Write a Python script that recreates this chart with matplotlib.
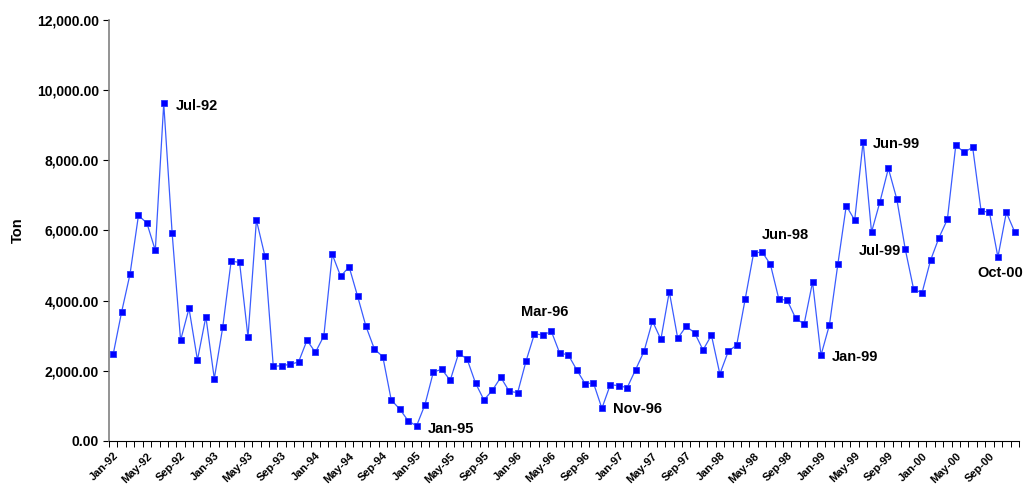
import matplotlib
matplotlib.use("Agg")
import matplotlib.pyplot as plt
import numpy as np
from matplotlib.ticker import FuncFormatter

# monthly tonnage, Jan-92 .. Dec-00
years = list(range(1992, 2001))
month_names = ["Jan", "Feb", "Mar", "Apr", "May", "Jun",
               "Jul", "Aug", "Sep", "Oct", "Nov", "Dec"]

tons_1992 = [2470, 3675, 4758, 6430, 6211, 5433, 9621, 5917, 2869, 3780, 2308, 3542]
tons_1993 = [1776, 3239, 5128, 5090, 2963, 6296, 5280, 2128, 2146, 2185, 2251, 2869]
tons_1994 = [2527, 2991, 5319, 4692, 4966, 4131, 3268, 2621, 2402, 1168, 912, 579]
tons_1995 = [427, 1034, 1966, 2042, 1729, 2499, 2336, 1652, 1168, 1444, 1815, 1416]
tons_1996 = [1377, 2279, 3058, 3020, 3125, 2499, 2460, 2033, 1634, 1652, 931, 1605]
tons_1997 = [1577, 1519, 2033, 2555, 3419, 2897, 4254, 2926, 3268, 3086, 2593, 3015]
tons_1998 = [1909, 2555, 2735, 4037, 5347, 5394, 5033, 4046, 4008, 3495, 3333, 4530]
tons_1999 = [2441, 3305, 5033, 6705, 6296, 8530, 5954, 6818, 7769, 6895, 5470, 4321]
tons_2000 = [4226, 5148, 5792, 6316, 8433, 8225, 8376, 6562, 6515, 5242, 6515, 5954]

# highlighted months: (label, text offset in points)
callouts = [
    ("Jul-92", (9, -1.8)),
    ("Jan-95", (8, -2.4)),
    ("Mar-96", (-10, 15.6)),
    ("Nov-96", (8, -0.2)),
    ("Jun-98", (0, 12)),
    ("Jan-99", (7.5, -1.4)),
    ("Jun-99", (7, -1.8)),
    ("Jul-99", (-9, -13.5)),
    ("Oct-00", (-14.5, -11.5)),
]

tons = np.array(tons_1992 + tons_1993 + tons_1994 + tons_1995 + tons_1996
                + tons_1997 + tons_1998 + tons_1999 + tons_2000, dtype=float)
months = [f"{m}-{y % 100:02d}" for y in years for m in month_names]
x = np.arange(len(months))

plt.rcParams["font.family"] = ["Liberation Sans", "DejaVu Sans"]
plt.rcParams["font.weight"] = "bold"

fig = plt.figure(figsize=(10.27, 4.87), dpi=100)
ax = fig.add_axes([0.1061, 0.0945, 0.8861, 0.8644])

ax.plot(x, tons, color="#3a5cff", linewidth=0.9, marker="s", markersize=5,
        markerfacecolor="#0000ff", markeredgecolor="#2233ff", markeredgewidth=0.6)

for label, offset in callouts:
    i = months.index(label)
    ax.annotate(label, (x[i], tons[i]), xytext=offset, textcoords="offset points",
                fontsize=10.5, fontweight="bold", ha="left", va="center")

ax.set_xlim(-0.5, len(months) - 0.5)
ax.set_ylim(0, 12000)
ax.set_yticks(np.arange(0, 12001, 2000))
ax.yaxis.set_major_formatter(FuncFormatter(lambda v, _: f"{v:,.2f}"))
ax.tick_params(axis="y", labelsize=10, length=4, width=0.8, direction="out", pad=3)
ax.set_ylabel("Ton", fontsize=10.5, fontweight="bold")
ax.yaxis.set_label_coords(-0.092, 0.5)

ax.set_xticks(x[::4])
ax.set_xticklabels(months[::4], rotation=45, ha="right", rotation_mode="anchor",
                   fontsize=8, fontweight="bold")
ax.set_xticks(np.arange(-0.5, len(months), 1), minor=True)
ax.tick_params(axis="x", which="major", length=0, pad=7)
ax.tick_params(axis="x", which="minor", length=4, width=0.7, direction="out")

for side in ("top", "right"):
    ax.spines[side].set_visible(False)
ax.spines["left"].set_color("#808080")
ax.spines["left"].set_linewidth(1.2)
ax.spines["bottom"].set_color("#000000")
ax.spines["bottom"].set_linewidth(0.8)

fig.savefig("out.png", dpi=100)
